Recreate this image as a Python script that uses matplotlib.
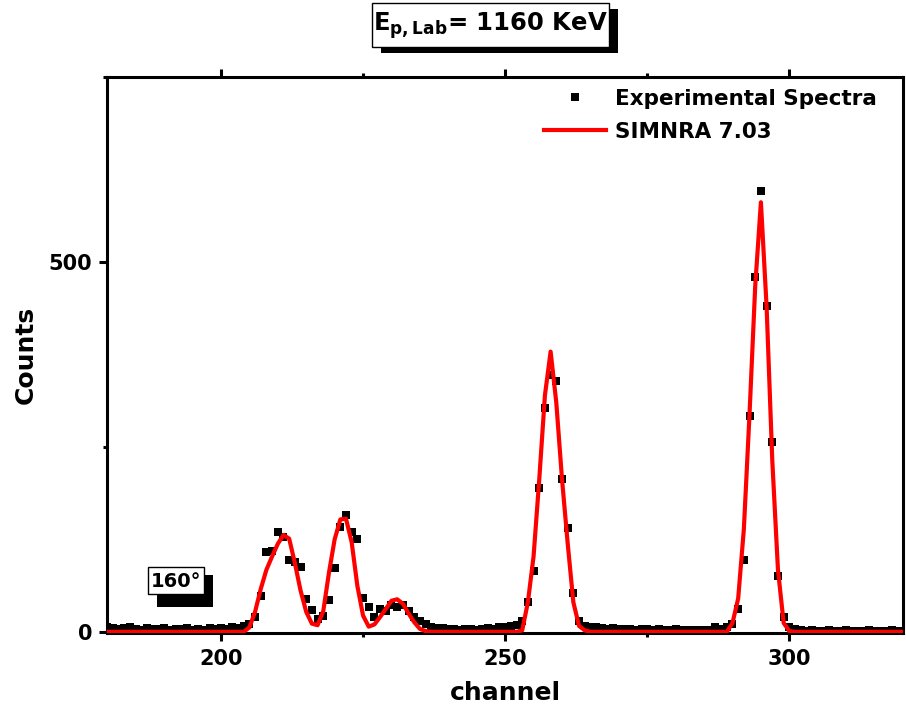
import numpy as np
import matplotlib
matplotlib.use("Agg")
import matplotlib.pyplot as plt
from matplotlib.patches import Rectangle
from matplotlib.ticker import MultipleLocator

# ── data ──────────────────────────────────────────────────────────────────────
channel_start = 180
channel_end = 320

# experimental counts, one value per channel 180..320
exp_counts = [
    7, 5, 4, 5, 6, 4, 3, 5, 4, 4,          # 180-189
    5, 3, 4, 4, 5, 3, 4, 3, 5, 4,          # 190-199
    5, 4, 6, 5, 8, 10, 20, 49, 108, 109,   # 200-209
    135, 128, 97, 95, 88, 45, 29, 18, 22, 43,   # 210-219
    86, 142, 158, 135, 126, 46, 34, 20, 31, 28,  # 220-229
    36, 33, 36, 28, 20, 14, 10, 7, 5, 5,   # 230-239
    4, 4, 3, 4, 4, 3, 4, 5, 4, 6,          # 240-249
    6, 8, 9, 14, 40, 82, 194, 303, 347, 339,    # 250-259
    207, 140, 53, 14, 8, 6, 6, 5, 4, 5,    # 260-269
    4, 4, 4, 3, 4, 4, 3, 4, 3, 3,          # 270-279
    4, 3, 3, 2, 2, 2, 3, 6, 4, 6,          # 280-289
    10, 31, 97, 292, 480, 596, 441, 257, 75, 20,  # 290-299
    7, 4, 2, 1, 2, 1, 1, 2, 1, 1,          # 300-309
    2, 1, 1, 1, 2, 1, 1, 1, 2, 1, 1,       # 310-320
]

# SIMNRA 7.03 simulation, one value per channel 180..320
sim_counts = [
    0, 0, 0, 0, 0, 0, 0, 0, 0, 0,          # 180-189
    0, 0, 0, 0, 0, 0, 0, 0, 0, 0,          # 190-199
    0, 0, 0, 0, 0, 6, 27, 58, 84, 102,     # 200-209
    119, 131, 126, 93, 56, 27, 11, 9, 28, 80,    # 210-219
    125, 152, 153, 121, 62, 22, 7, 10, 20, 31,   # 220-229
    42, 44, 38, 25, 13, 4, 1, 0, 0, 0,     # 230-239
    0, 0, 0, 0, 0, 0, 0, 0, 0, 0,          # 240-249
    0, 0, 0, 2, 40, 102, 206, 320, 379, 310,     # 250-259
    207, 120, 40, 8, 2, 0, 0, 0, 0, 0,     # 260-269
    0, 0, 0, 0, 0, 0, 0, 0, 0, 0,          # 270-279
    0, 0, 0, 0, 0, 0, 0, 0, 0, 0,          # 280-289
    12, 45, 139, 295, 468, 581, 440, 232, 84, 12,  # 290-299
    1, 0, 0, 0, 0, 0, 0, 0, 0, 0,          # 300-309
    0, 0, 0, 0, 0, 0, 0, 0, 0, 0, 0,       # 310-320
]

channels = np.arange(channel_start, channel_end + 1)

# ── figure ────────────────────────────────────────────────────────────────────
W, H = 906, 719
plt.rcParams["font.family"] = ["DejaVu Sans"]
plt.rcParams["font.weight"] = "bold"
plt.rcParams["mathtext.fontset"] = "dejavusans"

fig = plt.figure(figsize=(W / 100, H / 100), dpi=100)
ax = fig.add_axes([107.3 / W, 1 - 633.3 / H, (903 - 107.3) / W, (633.3 - 77.3) / H])

ax.plot(channels, exp_counts, linestyle="none", marker="s", markersize=5.5,
        color="black", markeredgewidth=0, label="Experimental Spectra", zorder=2)
ax.plot(channels, sim_counts, color="#ff0000", linewidth=3,
        label="SIMNRA 7.03", zorder=3)

ax.set_xlim(180, 320)
ax.set_ylim(-2, 750)

ax.xaxis.set_major_locator(MultipleLocator(50))
ax.xaxis.set_minor_locator(MultipleLocator(25))
ax.yaxis.set_major_locator(MultipleLocator(500))
ax.yaxis.set_minor_locator(MultipleLocator(250))

for s in ax.spines.values():
    s.set_linewidth(2.2)
ax.tick_params(which="major", direction="out", length=6, width=2.2,
               labelsize=15, top=True, right=False, pad=5)
ax.tick_params(which="minor", direction="out", length=3, width=2.2,
               top=True, right=False)
for lab in ax.get_xticklabels() + ax.get_yticklabels():
    lab.set_fontweight("bold")

ax.set_xlabel("channel", fontsize=18, fontweight="bold", labelpad=9)
ax.set_ylabel("Counts", fontsize=18, fontweight="bold", labelpad=8)

leg = ax.legend(loc="upper left", bbox_to_anchor=(544 / W, 1 - 89 / H),
                bbox_transform=fig.transFigure, frameon=False, fontsize=15.5,
                handlelength=2.9, handletextpad=0.4, labelspacing=0.6,
                borderpad=0, borderaxespad=0, markerscale=1.1)
for t in leg.get_texts():
    t.set_fontweight("bold")


# ── boxed labels with drop shadow (figure pixel coords) ───────────────────────
def px_rect(x0, y0, x1, y1, **kw):
    r = Rectangle((x0 / W, 1 - y1 / H), (x1 - x0) / W, (y1 - y0) / H,
                  transform=fig.transFigure, **kw)
    fig.patches.append(r)


# title box
px_rect(381, 9, 618, 53, facecolor="black", edgecolor="none", zorder=1)
px_rect(372, 3, 609, 47, facecolor="white", edgecolor="black", linewidth=1, zorder=2)
fig.text(490.5 / W, 1 - 26 / H, r"$\mathbf{E_{p,Lab}}$= 1160 KeV",
         fontsize=17.5, fontweight="bold", ha="center", va="center", zorder=3)

# angle box
px_rect(156.7, 575, 212.7, 606.7, facecolor="black", edgecolor="none", zorder=1)
px_rect(147.7, 567.3, 204.3, 594.3, facecolor="white", edgecolor="black",
        linewidth=1, zorder=2)
fig.text(176 / W, 1 - 581.5 / H, "160°", fontsize=14, fontweight="bold",
         ha="center", va="center", zorder=3)

fig.savefig("out.png", dpi=100)
